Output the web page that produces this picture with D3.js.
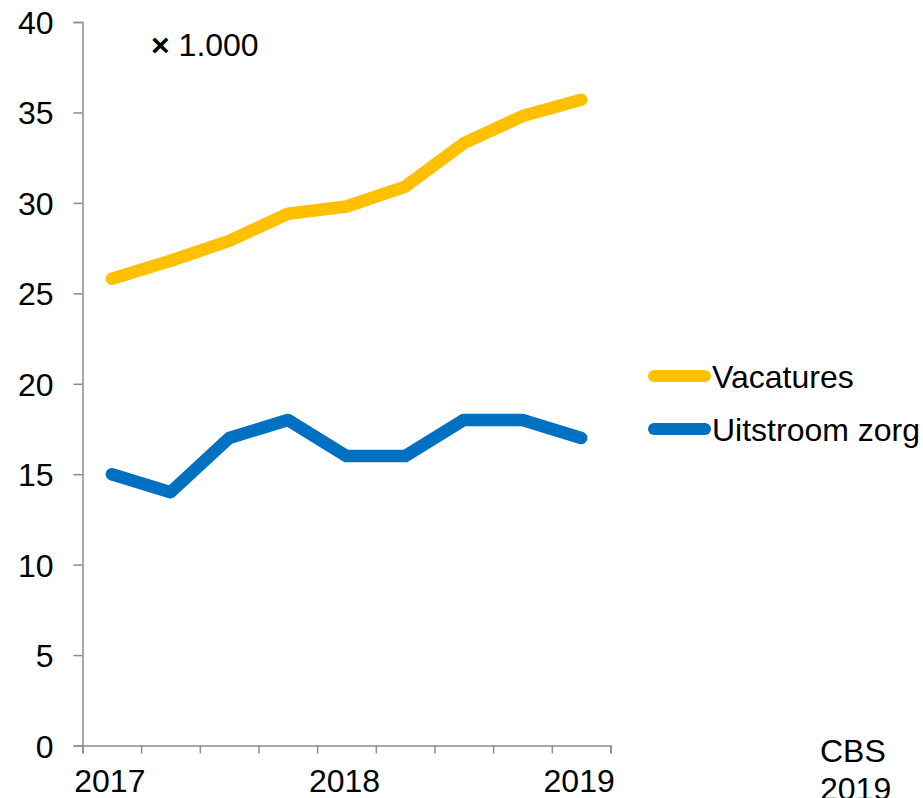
<!DOCTYPE html>
<html>
<head>
<meta charset="utf-8">
<script src="https://cdn.jsdelivr.net/npm/d3@7"></script>
<style>
  html, body { margin: 0; padding: 0; background: #fff; }
  svg text { font-family: "Liberation Sans", Arial, sans-serif; fill: #000; }
</style>
</head>
<body>
<svg id="chart" width="923" height="798"></svg>
<script>
// quarterly periods, 2017 Q1 .. 2019 Q1
const categories = ['2017 K1', '2017 K2', '2017 K3', '2017 K4', '2018 K1', '2018 K2', '2018 K3', '2018 K4', '2019 K1'];
const tickLabels = ['2017', '', '', '', '2018', '', '', '', '2019'];
const vacatures = [25.8, 26.8, 27.9, 29.4, 29.8, 30.9, 33.3, 34.8, 35.7];
const uitstroomZorg = [15, 14, 17, 18, 16, 16, 18, 18, 17];
const yTicks = [0, 5, 10, 15, 20, 25, 30, 35, 40];

const series = [
  { name: 'Vacatures', values: vacatures, color: '#FFC000' },
  { name: 'Uitstroom zorg', values: uitstroomZorg, color: '#0070C0' }
];

const svg = d3.select('#chart');
const plotLeft = 82.5, plotRight = 610.5, plotTop = 22, plotBottom = 745.5;
const axisColor = '#8c8c8c';
const fontSize = 32;

const x = d3.scaleBand().domain(categories).range([plotLeft, plotRight]);
const xEdge = d3.scaleLinear().domain([0, categories.length]).range([plotLeft, plotRight]);
const y = d3.scaleLinear().domain([0, 40]).range([plotBottom, plotTop]);

// y axis
const gy = svg.append('g')
  .attr('transform', `translate(${plotLeft},0)`)
  .call(d3.axisLeft(y).tickValues(yTicks).tickSize(9).tickPadding(20));
gy.selectAll('text').style('font-size', fontSize + 'px').attr('dy', '0.36em');

// x axis: tick marks sit on the period boundaries
const gx = svg.append('g')
  .attr('transform', `translate(0,${plotBottom})`)
  .call(d3.axisBottom(xEdge).tickValues(d3.range(categories.length + 1)).tickSize(8).tickFormat(''));

svg.selectAll('.domain, .tick line').attr('stroke', axisColor).attr('stroke-width', 1.5);

svg.append('g').selectAll('text')
  .data(categories.filter((c, i) => tickLabels[i]))
  .join('text')
  .attr('x', d => x(d) + x.bandwidth() / 2 - 2)
  .attr('y', plotBottom + 46.5)
  .attr('text-anchor', 'middle')
  .style('font-size', fontSize + 'px')
  .text(d => tickLabels[categories.indexOf(d)]);

// unit label
const unit = svg.append('text')
  .attr('x', 151).attr('y', 56)
  .style('font-size', fontSize + 'px');
unit.append('tspan').style('font-weight', 'bold').text('×');
unit.append('tspan').text(' 1.000');

// lines
const line = d3.line()
  .x((d, i) => x(categories[i]) + x.bandwidth() / 2)
  .y(d => y(d));

svg.append('g').selectAll('path')
  .data(series)
  .join('path')
  .attr('d', d => line(d.values))
  .attr('fill', 'none')
  .attr('stroke', d => d.color)
  .attr('stroke-width', 12.5)
  .attr('stroke-linecap', 'round')
  .attr('stroke-linejoin', 'round');

// legend
const legend = svg.append('g').selectAll('g')
  .data(series)
  .join('g')
  .attr('transform', (d, i) => `translate(0,${376 + i * 53})`);

legend.append('line')
  .attr('x1', 654).attr('x2', 705)
  .attr('stroke', d => d.color)
  .attr('stroke-width', 12)
  .attr('stroke-linecap', 'round');

legend.append('text')
  .attr('x', 712).attr('y', 12)
  .style('font-size', fontSize + 'px')
  .text(d => d.name);

// source note
const src = svg.append('text')
  .attr('x', 820).attr('y', 762)
  .style('font-size', fontSize + 'px');
src.append('tspan').attr('x', 820).text('CBS');
src.append('tspan').attr('x', 820).attr('dy', 38).text('2019');
</script>
</body>
</html>
